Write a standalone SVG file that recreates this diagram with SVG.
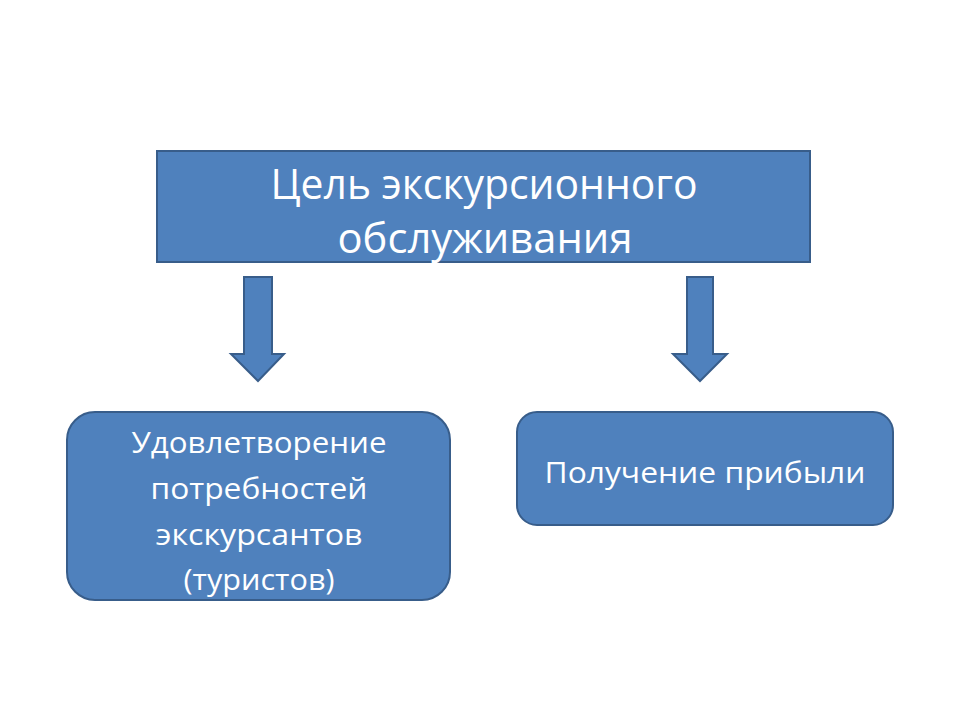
<svg xmlns="http://www.w3.org/2000/svg" width="960" height="720" viewBox="0 0 960 720">
<style>
.box{fill:#4F81BD;stroke:#385D8A;stroke-width:2}
.arrow{fill:#4F81BD;stroke:#385D8A;stroke-width:2;stroke-linejoin:miter}
text{font-family:"Open Sans","Liberation Sans",sans-serif;fill:#FFFFFF;text-anchor:middle}
.t1{font-size:42px}
.t2{font-size:30px}
</style>
<rect width="960" height="720" fill="#FFFFFF"/>
<g id="goal">
<rect class="box" x="157" y="151" width="653" height="111"/>
<text class="t1" x="484" y="199" textLength="427" lengthAdjust="spacingAndGlyphs">Цель экскурсионного</text>
<text class="t1" x="485" y="253" textLength="295" lengthAdjust="spacingAndGlyphs">обслуживания</text>
</g>
<g id="connectors">
<path class="arrow" d="M244 277 H272 V354 H284 L258 381 L231 354 H244 Z"/>
<path class="arrow" d="M687 277 H713 V354 H727 L700 381 L673 354 H687 Z"/>
</g>
<g id="needs">
<rect class="box" x="67" y="412" width="383" height="188" rx="28" ry="28"/>
<text class="t2" x="259" y="453" textLength="255" lengthAdjust="spacingAndGlyphs">Удовлетворение</text>
<text class="t2" x="259" y="499" textLength="217" lengthAdjust="spacingAndGlyphs">потребностей</text>
<text class="t2" x="259" y="545" textLength="207" lengthAdjust="spacingAndGlyphs">экскурсантов</text>
<text class="t2" x="259" y="590" textLength="151" lengthAdjust="spacingAndGlyphs">(туристов)</text>
</g>
<g id="profit">
<rect class="box" x="517" y="412" width="376" height="113" rx="20" ry="20"/>
<text class="t2" x="705" y="483" textLength="321" lengthAdjust="spacingAndGlyphs">Получение прибыли</text>
</g>
</svg>
